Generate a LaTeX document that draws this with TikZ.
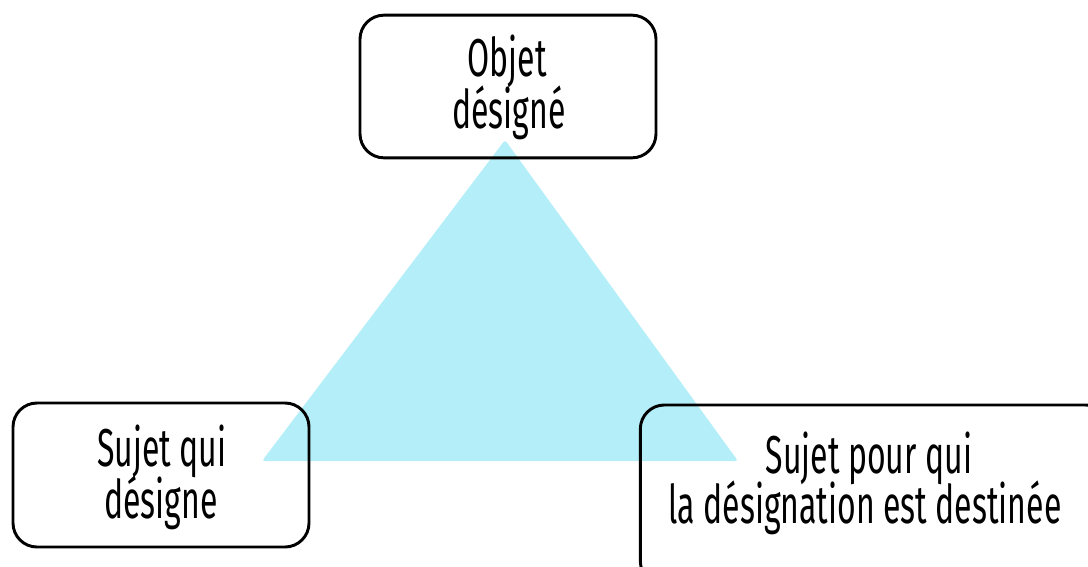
\documentclass[tikz,border=0pt]{standalone}
\usepackage{fontspec}
\newfontfamily\cond[FakeStretch=0.6]{Fira Sans}
\definecolor{tricol}{RGB}{180,238,248}
\begin{document}
\begin{tikzpicture}[x=0.75pt,y=-0.75pt,
  box/.style={draw=black, line width=2.2pt, rounded corners=18pt, fill=none, inner sep=0pt},
  lbl/.style={font=\cond\fontsize{40}{36}\selectfont, anchor=base, inner sep=0pt}]
\useasboundingbox (0,0) rectangle (1088,567);
\clip (0,0) rectangle (1088,567);
\fill[tricol, rounded corners=2pt] (505,140) -- (262,461) -- (738,461) -- cycle;
\node[box, minimum width=222pt, minimum height=107pt] (obj) at (508,86.5) {};
\node[box, minimum width=222pt, minimum height=108pt] (sq) at (161,475) {};
\node[box, minimum width=352pt, minimum height=135pt] (sp) at (875,495) {};
\node[lbl] (tobja) at (507,77) {Objet};
\node[lbl] (tobjb) at (509,128) {désigné};
\node[lbl] (tsqa) at (162,466) {Sujet qui};
\node[lbl] (tsqb) at (161,518) {désigne};
\node[lbl] (tspa) at (869,473) {Sujet pour qui};
\node[lbl] (tspb) at (865,523) {la désignation est destinée};
\end{tikzpicture}
\end{document}
